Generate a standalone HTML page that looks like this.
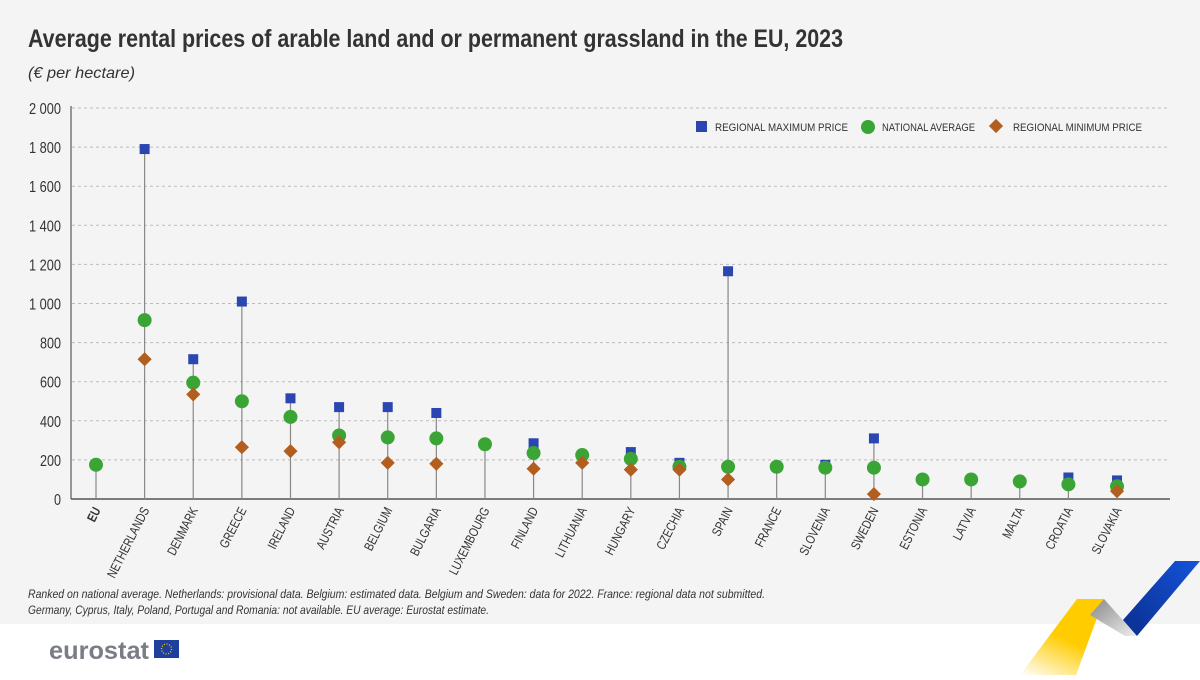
<!DOCTYPE html><html><head><meta charset="utf-8"><style>
body{margin:0;width:1200px;height:675px;overflow:hidden;background:#fff;font-family:"Liberation Sans",sans-serif}
</style></head><body>
<svg width="1200" height="675" xmlns="http://www.w3.org/2000/svg" font-family="Liberation Sans, sans-serif">
<rect width="1200" height="624" fill="#f4f4f4"/>
<text x="28" y="47" font-size="25" font-weight="bold" fill="#333" textLength="815" lengthAdjust="spacingAndGlyphs">Average rental prices of arable land and or permanent grassland in the EU, 2023</text>
<text x="28" y="78" font-size="16" font-style="italic" fill="#333" textLength="107" lengthAdjust="spacingAndGlyphs">(€ per hectare)</text>
<g id="grid" stroke="#bbb" stroke-dasharray="3,3" stroke-width="1"></g>
<g id="yl" font-size="16" fill="#333" text-anchor="end"></g>
<line x1="71" y1="106" x2="71" y2="499" stroke="#777" stroke-width="1.5"/>
<line x1="71" y1="499" x2="1170" y2="499" stroke="#555" stroke-width="1.5"/>
<g id="pts"></g>
<g font-size="11" fill="#333">
<rect x="696" y="121" width="11" height="11" fill="#2a46b0"/><text x="715" y="131" textLength="133" lengthAdjust="spacingAndGlyphs">REGIONAL MAXIMUM PRICE</text>
<circle cx="868" cy="127" r="7" fill="#3aa535"/><text x="882" y="131" textLength="93" lengthAdjust="spacingAndGlyphs">NATIONAL AVERAGE</text>
<rect x="991" y="121" width="10" height="10" fill="#b25e1e" transform="rotate(45 996 126)"/><text x="1013" y="131" textLength="129" lengthAdjust="spacingAndGlyphs">REGIONAL MINIMUM PRICE</text>
</g>
<g id="xl" font-size="13" fill="#333" text-anchor="end"></g>
<text x="28" y="598" font-size="12" font-style="italic" fill="#333" textLength="737" lengthAdjust="spacingAndGlyphs">Ranked on national average. Netherlands: provisional data. Belgium: estimated data. Belgium and Sweden: data for 2022. France: regional data not submitted.</text>
<text x="28" y="614" font-size="12" font-style="italic" fill="#333" textLength="461" lengthAdjust="spacingAndGlyphs">Germany, Cyprus, Italy, Poland, Portugal and Romania: not available. EU average: Eurostat estimate.</text>
<text x="49" y="659" font-size="25" font-weight="bold" fill="#7a7d85" textLength="100" lengthAdjust="spacingAndGlyphs">eurostat</text>
<rect x="154" y="640" width="25" height="18" fill="#1f3f9c"/>
<circle cx="166.5" cy="649" r="5" fill="none" stroke="#fc0" stroke-width="1.3" stroke-dasharray="1,1.6"/>
<defs><linearGradient id="gy" x1="0" y1="1" x2="0.5" y2="0"><stop offset="0" stop-color="#fff"/><stop offset="0.6" stop-color="#fc0"/></linearGradient>
<linearGradient id="gg" x1="0" y1="0" x2="1" y2="1"><stop offset="0" stop-color="#888"/><stop offset="1" stop-color="#eee"/></linearGradient>
<linearGradient id="gb" x1="0" y1="1" x2="1" y2="0"><stop offset="0" stop-color="#0a2f8f"/><stop offset="1" stop-color="#1552d8"/></linearGradient></defs>
<polygon points="1020,675 1076,675 1104,599 1077,599" fill="url(#gy)"/>
<polygon points="1090,615 1104,599 1137,636 1125,636" fill="url(#gg)"/>
<polygon points="1123,620 1175,561 1200,561 1137,636" fill="url(#gb)"/>
</svg>
<script>
const ns="http://www.w3.org/2000/svg";
function el(p,t,a,txt){const e=document.createElementNS(ns,t);for(const k in a)e.setAttribute(k,a[k]);if(txt!=null)e.textContent=txt;document.getElementById(p).appendChild(e);}
const Y=v=>499-v*0.1955;
for(let v=0;v<=2000;v+=200){if(v>0)el("grid","line",{x1:72,x2:1170,y1:Y(v),y2:Y(v)});const s=v>=1000?(String(v)[0]+" "+String(v).slice(1)):String(v);
el("yl","text",{x:61,y:Y(v)+6,textLength:s.replace(" ","").length*7+(s.includes(" ")?4:0),lengthAdjust:"spacingAndGlyphs"},s);}
const d=[["EU",null,175,null],["NETHERLANDS",1790,915,715],["DENMARK",715,595,535],["GREECE",1010,500,265],["IRELAND",515,420,245],["AUSTRIA",470,325,290],["BELGIUM",470,315,185],["BULGARIA",440,310,180],["LUXEMBOURG",null,280,null],["FINLAND",285,235,155],["LITHUANIA",null,225,185],["HUNGARY",240,205,150],["CZECHIA",185,165,150],["SPAIN",1165,165,100],["FRANCE",null,165,null],["SLOVENIA",175,160,null],["SWEDEN",310,160,25],["ESTONIA",null,100,null],["LATVIA",null,100,null],["MALTA",null,90,null],["CROATIA",110,75,null],["SLOVAKIA",95,65,40]];
d.forEach((r,i)=>{const x=96+i*48.62;const top=Math.max(r[1]||0,r[2]);
el("pts","line",{x1:x,x2:x,y1:499,y2:Y(top),stroke:"#888","stroke-width":1.2});
if(r[1]!=null)el("pts","rect",{x:x-5,y:Y(r[1])-5,width:10,height:10,fill:"#2a46b0"});
el("pts","circle",{cx:x,cy:Y(r[2]),r:7,fill:"#3aa535"});
if(r[3]!=null)el("pts","rect",{x:x-5,y:Y(r[3])-5,width:10,height:10,fill:"#b25e1e",transform:`rotate(45 ${x} ${Y(r[3])})`});
const a={x:0,y:0,transform:`translate(${x+5} 510) rotate(-63) scale(0.8 1)`};if(i==0)a["font-weight"]="bold";
el("xl","text",a,r[0]);});
</script>
</body></html>
